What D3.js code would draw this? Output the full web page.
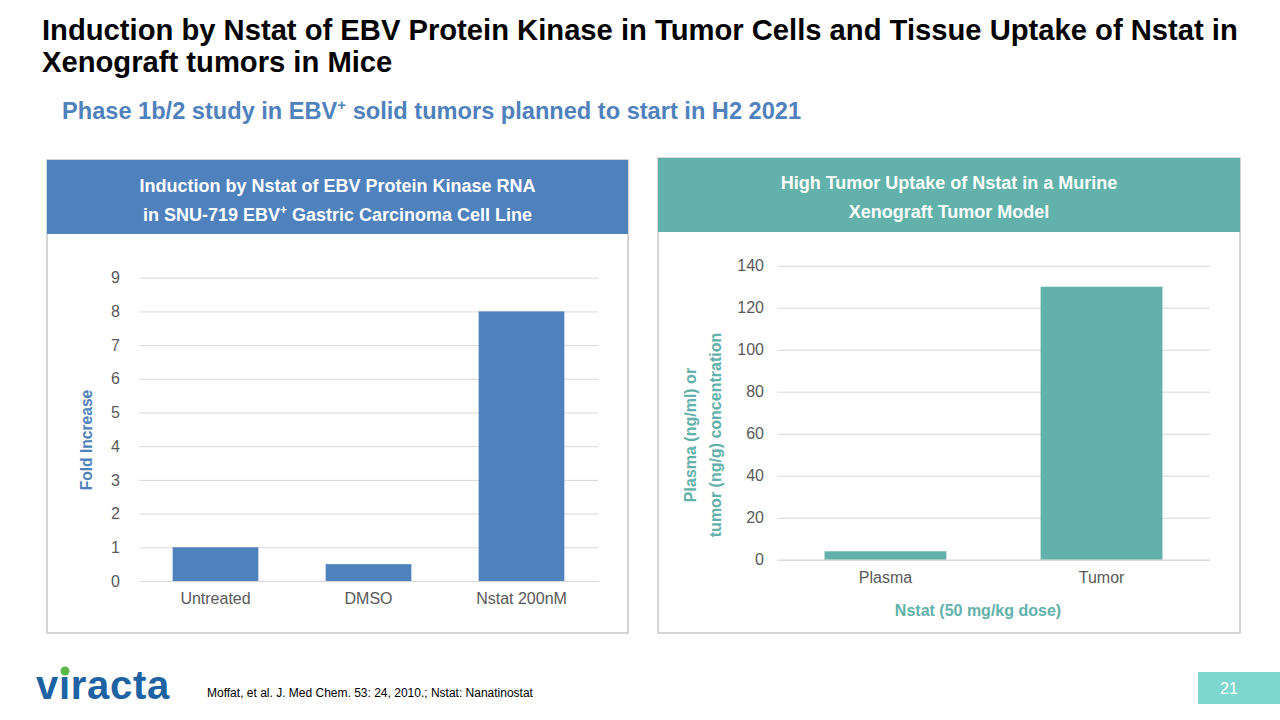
<html>
<head>
    <meta charset="utf-8">
    <script src="https://d3js.org/d3.v7.min.js"></script>
    <style>
      body { margin: 0; background: #fff; }
      text { font-family: "Liberation Sans", Arial, Helvetica, sans-serif; }
    </style>
</head>
<body>
<div id="slide"></div>
<script>
    // data
    const rnaCategories = ["Untreated", "DMSO", "Nstat 200nM"];
    const rnaValues = [1, 0.5, 8];
    const rnaTicks = [0, 1, 2, 3, 4, 5, 6, 7, 8, 9];

    const uptakeCategories = ["Plasma", "Tumor"];
    const uptakeValues = [4, 130];
    const uptakeTicks = [0, 20, 40, 60, 80, 100, 120, 140];

    const blue = "#4f81bd", teal = "#62b1aa", tickGrey = "#595959", gridGrey = "#d9d9d9";

    const svg = d3.select("#slide")
      .append("svg")
        .attr("width", 1280)
        .attr("height", 720);

    // title
    const title = svg.append("text")
      .attr("x", 42).attr("y", 40)
      .style("font-size", "29.2px").style("font-weight", "bold").attr("fill", "#000");
    title.append("tspan").attr("x", 42).attr("dy", 0)
      .text("Induction by Nstat of EBV Protein Kinase in Tumor Cells and Tissue Uptake of Nstat in");
    title.append("tspan").attr("x", 42).attr("dy", 32)
      .text("Xenograft tumors in Mice");

    const sub = svg.append("text")
      .attr("x", 62).attr("y", 119)
      .style("font-size", "23.6px").style("font-weight", "bold").attr("fill", blue);
    sub.append("tspan").text("Phase 1b/2 study in EBV");
    sub.append("tspan").attr("dy", -9).style("font-size", "15px").text("+");
    sub.append("tspan").attr("dy", 9).text(" solid tumors planned to start in H2 2021");

    // panels
    function panel(x0, y0, w, headH, bodyBottom, color, lines, lineY) {
      svg.append("rect")
        .attr("x", x0).attr("y", y0).attr("width", w).attr("height", bodyBottom - y0)
        .attr("fill", "#fff").attr("stroke", "#c8c8c8").attr("stroke-width", 1.5);
      svg.append("rect")
        .attr("x", x0).attr("y", y0).attr("width", w).attr("height", headH)
        .attr("fill", color);
      lines.forEach((l, i) => {
        const t = svg.append("text")
          .attr("x", x0 + w / 2).attr("y", lineY[i])
          .attr("text-anchor", "middle")
          .style("font-size", "18px").style("font-weight", "bold").attr("fill", "#fff");
        l.forEach(part => {
          const s = t.append("tspan").text(part.t);
          if (part.sup) s.attr("dy", -7).style("font-size", "12px");
          if (part.down) s.attr("dy", 7);
        });
      });
    }
    panel(47, 160, 581, 74, 633, blue,
      [[{t: "Induction by Nstat of EBV Protein Kinase RNA"}],
       [{t: "in SNU-719 EBV"}, {t: "+", sup: true}, {t: " Gastric Carcinoma Cell Line", down: true}]],
      [192, 221]);
    panel(658, 158, 582, 74, 633, teal,
      [[{t: "High Tumor Uptake of Nstat in a Murine"}], [{t: "Xenograft Tumor Model"}]],
      [189, 218]);

    const tickFont = g => g.selectAll("text").attr("fill", tickGrey).style("font-size", "16px")
        .style("font-family", "Liberation Sans, Arial, sans-serif");

    // left chart
    const x1 = d3.scaleBand().domain(rnaCategories).range([139, 598]).paddingInner(0.44).paddingOuter(0.22);
    const y1 = d3.scaleLinear().domain([0, 9]).range([581, 277.7]);

    const g1 = svg.append("g");
    g1.append("g")
      .attr("transform", "translate(139,0)")
      .call(d3.axisLeft(y1).tickValues(rnaTicks).tickSize(-459).tickPadding(19))
      .call(g => g.select(".domain").remove())
      .call(g => g.selectAll("line").attr("stroke", gridGrey))
      .call(tickFont);
    g1.selectAll("rect.bar")
      .data(rnaValues)
      .join("rect")
        .attr("class", "bar")
        .attr("x", (d, i) => x1(rnaCategories[i]))
        .attr("y", d => y1(d))
        .attr("width", x1.bandwidth())
        .attr("height", d => y1(0) - y1(d))
        .attr("fill", blue);
    g1.append("g")
      .attr("transform", "translate(0,581)")
      .call(d3.axisBottom(x1).tickSize(0).tickPadding(12))
      .call(g => g.select(".domain").attr("stroke", gridGrey))
      .call(tickFont);
    svg.append("text")
      .attr("transform", "translate(92,440) rotate(-90)")
      .attr("text-anchor", "middle")
      .style("font-size", "15.6px").style("font-weight", "bold").attr("fill", blue)
      .text("Fold Increase");

    // right chart
    const x2 = d3.scaleBand().domain(uptakeCategories).range([777, 1210]).paddingInner(0.436).paddingOuter(0.22);
    const y2 = d3.scaleLinear().domain([0, 140]).range([559.7, 265.7]);

    const g2 = svg.append("g");
    g2.append("g")
      .attr("transform", "translate(777,0)")
      .call(d3.axisLeft(y2).tickValues(uptakeTicks).tickSize(-433).tickPadding(13))
      .call(g => g.select(".domain").remove())
      .call(g => g.selectAll("line").attr("stroke", gridGrey))
      .call(tickFont);
    g2.selectAll("rect.bar")
      .data(uptakeValues)
      .join("rect")
        .attr("class", "bar")
        .attr("x", (d, i) => x2(uptakeCategories[i]))
        .attr("y", d => y2(d))
        .attr("width", x2.bandwidth())
        .attr("height", d => y2(0) - y2(d))
        .attr("fill", teal);
    g2.append("g")
      .attr("transform", "translate(0,559.7)")
      .call(d3.axisBottom(x2).tickSize(0).tickPadding(12))
      .call(g => g.select(".domain").attr("stroke", gridGrey))
      .call(tickFont);
    svg.append("text")
      .attr("x", 978).attr("y", 616)
      .attr("text-anchor", "middle")
      .style("font-size", "16px").style("font-weight", "bold").attr("fill", teal)
      .text("Nstat (50 mg/kg dose)");
    const yl = svg.append("text")
      .attr("transform", "translate(696,435) rotate(-90)")
      .attr("text-anchor", "middle")
      .style("font-size", "16px").style("font-weight", "bold").attr("fill", teal);
    yl.append("tspan").attr("x", 0).attr("dy", 0).text("Plasma (ng/ml) or");
    yl.append("tspan").attr("x", 0).attr("dy", 25).text("tumor (ng/g) concentration");

    // footer
    svg.append("text")
      .attr("x", 36).attr("y", 699)
      .style("font-size", "40px").style("font-weight", "bold").attr("fill", "#1d62a2")
      .attr("letter-spacing", "0.7")
      .text("viracta");
    svg.append("circle").attr("cx", 65).attr("cy", 671).attr("r", 4.5).attr("fill", "#5ab947");
    svg.append("text")
      .attr("x", 207).attr("y", 697)
      .style("font-size", "12px").attr("fill", "#000")
      .text("Moffat, et al. J. Med Chem. 53: 24, 2010.; Nstat: Nanatinostat");
    svg.append("rect").attr("x", 1198).attr("y", 672).attr("width", 82).attr("height", 32).attr("fill", "#7fd6cf");
    svg.append("text")
      .attr("x", 1229).attr("y", 694)
      .attr("text-anchor", "middle")
      .style("font-size", "16px").attr("fill", "#fff")
      .text("21");
</script>
</body>
</html>
